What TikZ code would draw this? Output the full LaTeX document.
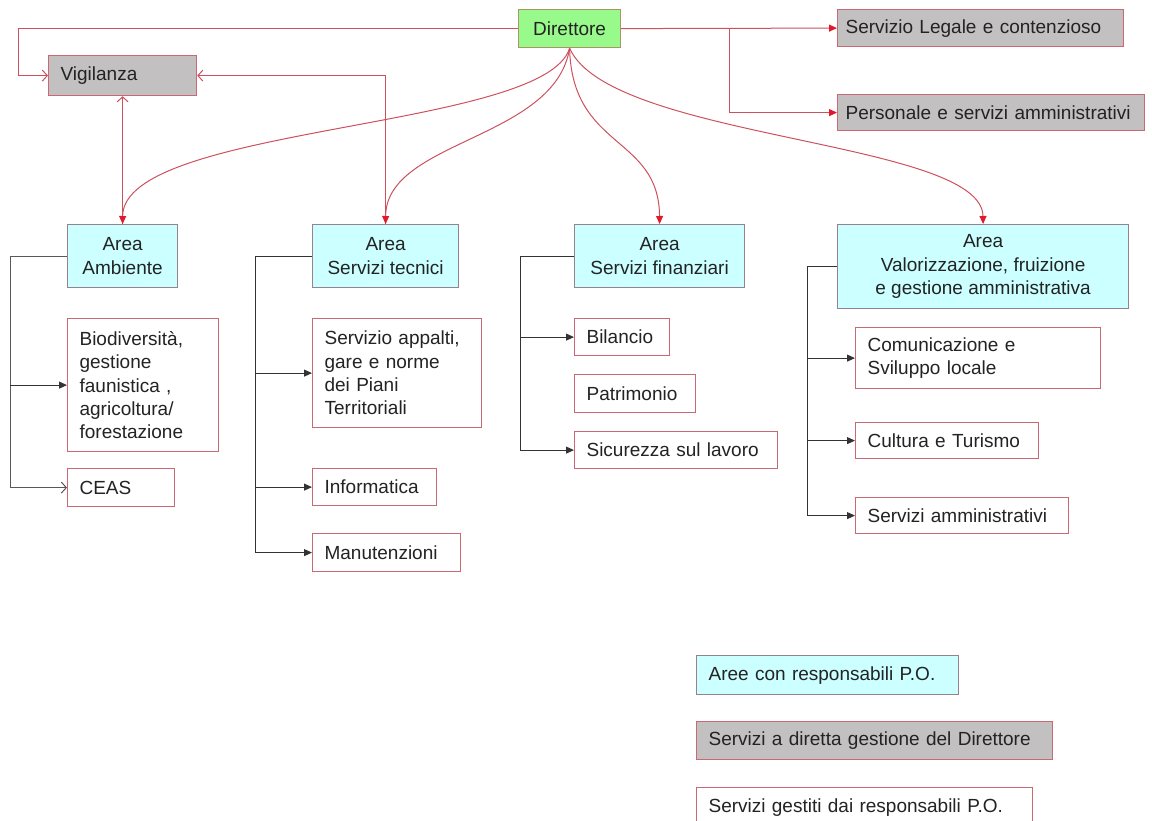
\documentclass[tikz,border=0pt]{standalone}
\usepackage{fontspec}
\setmainfont{Liberation Sans}
\usepackage{xcolor}
\usepackage{tikz}
\usetikzlibrary{arrows.meta, calc}
\definecolor{linered}{RGB}{205,80,95}
\definecolor{tipred}{RGB}{225,25,45}
\definecolor{boxred}{RGB}{200,105,115}
\definecolor{areacyan}{RGB}{204,255,255}
\definecolor{areaedge}{RGB}{150,130,140}
\definecolor{dirgreen}{RGB}{153,250,140}
\definecolor{diredge}{RGB}{170,150,100}
\definecolor{servgray}{RGB}{194,192,192}
\definecolor{textgray}{RGB}{35,35,35}
\tikzstyle{box} = [draw, rectangle, anchor=north west, line width=1.2pt, inner sep=0pt, font=\fontsize{19}{23.3}\selectfont, text=textgray]
\tikzstyle{area} = [box, fill=areacyan, draw=areaedge, align=center]
\tikzstyle{direct} = [box, fill=servgray, draw=boxred, align=left, inner xsep=12pt]
\tikzstyle{sub} = [box, fill=white, draw=boxred, align=left, inner xsep=12pt]
\tikzstyle{redarrow} = [line width=1pt, draw=linered, -{Triangle[length=8pt,width=7pt,color=tipred]}]
\tikzstyle{openarrow} = [line width=1pt, draw=linered, -{Straight Barb[length=5pt,width=11pt]}]
\tikzstyle{blackarrow} = [line width=1pt, draw=black!80, -{Triangle[length=8pt,width=7pt]}]

\begin{document}
\begin{tikzpicture}[x=1pt, y=-1pt]
    \clip (0,0) rectangle (1152,821);
    % direzione
    \node[box, fill=dirgreen, draw=diredge, minimum width=102pt, minimum height=38pt] (dir) at (518,9) {Direttore};
    \node[direct, text width=124pt, minimum height=40pt] (vig) at (48,55) {Vigilanza};
    \node[direct, inner xsep=8pt, text width=270pt, minimum height=37pt] (legale) at (837,9) {Servizio Legale e contenzioso};
    \node[direct, inner xsep=8pt, text width=291pt, minimum height=36pt] (pers) at (837,94) {Personale e servizi amministrativi};

    % aree
    \node[area, minimum width=110pt, minimum height=63pt] (ambiente) at (67,224) {Area\\Ambiente};
    \node[area, minimum width=146pt, minimum height=63pt] (tecnici) at (312,224) {Area\\Servizi tecnici};
    \node[area, minimum width=170pt, minimum height=63pt] (finanz) at (574,224) {Area\\Servizi finanziari};
    \node[area, minimum width=291pt, minimum height=84pt] (valor) at (837,224) {Area\\Valorizzazione, fruizione\\e gestione amministrativa};

    % servizi
    \node[sub, text width=127pt, minimum height=133pt] (biodiv) at (67,318) {Biodiversità,\\gestione\\faunistica ,\\agricoltura/\\forestazione};
    \node[sub, text width=83pt, minimum height=38pt] (ceas) at (67,468) {CEAS};
    \node[sub, text width=145pt, minimum height=109pt] (appalti) at (312,318) {Servizio appalti,\\gare e norme\\dei Piani\\Territoriali};
    \node[sub, text width=100pt, minimum height=37pt] (informatica) at (312,468) {Informatica};
    \node[sub, text width=124pt, minimum height=38pt] (manut) at (312,533) {Manutenzioni};
    \node[sub, text width=71pt, minimum height=37pt] (bilancio) at (574,318) {Bilancio};
    \node[sub, text width=97pt, minimum height=38pt] (patrimonio) at (574,374) {Patrimonio};
    \node[sub, text width=179pt, minimum height=37pt] (sicurezza) at (574,431) {Sicurezza sul lavoro};
    \node[sub, text width=221pt, minimum height=61pt] (comunic) at (855,327) {Comunicazione e\\Sviluppo locale};
    \node[sub, text width=159pt, minimum height=36pt] (cultura) at (855,422) {Cultura e Turismo};
    \node[sub, text width=189pt, minimum height=36pt] (servamm) at (855,497) {Servizi amministrativi};

    % legenda
    \node[sub, fill=areacyan, draw=areaedge, text width=238pt, minimum height=39pt] (legA) at (696,655) {Aree con responsabili P.O.};
    \node[direct, text width=332pt, minimum height=38pt] (legB) at (696,721) {Servizi a diretta gestione del Direttore};
    \node[sub, text width=312pt, minimum height=39pt] (legC) at (696,787) {Servizi gestiti dai responsabili P.O.};

    % collegamenti del direttore
    \draw[openarrow] (dir.west) -| ([xshift=-30pt]vig.west) -- (vig.west);
    \draw[redarrow] (dir.east) -- (legale.west);
    \coordinate (split) at (729,28);
    \draw[redarrow] (split) |- (pers.west);
    \draw[openarrow] (ambiente.north) -- (vig.south);
    \draw[openarrow] (tecnici.north) |- (vig.east);
    \draw[redarrow] (dir.south) .. controls (545,130) and (123,125) .. (ambiente.north);
    \draw[redarrow] (dir.south) .. controls (555,140) and (386,140) .. (tecnici.north);
    \draw[redarrow] (dir.south) .. controls (572,150) and (659,135) .. (finanz.north);
    \draw[redarrow] (dir.south) .. controls (610,140) and (982,140) .. (valor.north);

    % alberi delle aree
    \draw[line width=1pt, draw=black!65, -{Straight Barb[length=5pt,width=11pt]}] (ambiente.west) -- ++(-57,0) coordinate (ambtrunk) |- (ceas.west);
    \draw[blackarrow] (ambtrunk |- biodiv.west) -- (biodiv.west);

    \draw[blackarrow] (tecnici.west) -- ++(-57,0) coordinate (tectrunk) |- (manut.west);
    \draw[blackarrow] (tectrunk |- appalti.west) -- (appalti.west);
    \draw[blackarrow] (tectrunk |- informatica.west) -- (informatica.west);

    \draw[blackarrow] (finanz.west) -- ++(-54,0) coordinate (fintrunk) |- (sicurezza.west);
    \draw[blackarrow] (fintrunk |- bilancio.west) -- (bilancio.west);

    \draw[blackarrow] (valor.west) -- ++(-30,0) coordinate (valtrunk) |- (servamm.west);
    \draw[blackarrow] (valtrunk |- comunic.west) -- (comunic.west);
    \draw[blackarrow] (valtrunk |- cultura.west) -- (cultura.west);
\end{tikzpicture}
\end{document}
